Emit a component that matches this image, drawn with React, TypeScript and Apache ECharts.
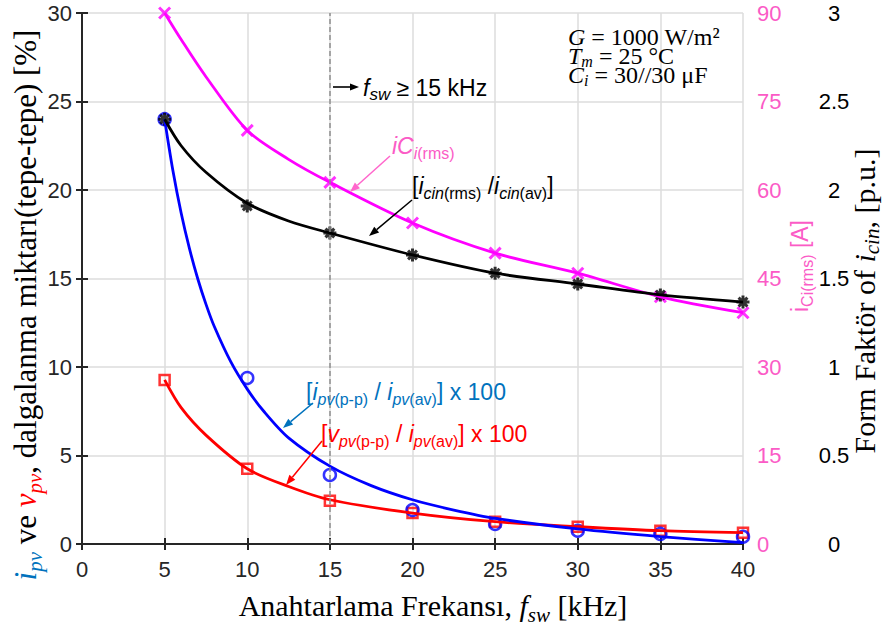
import React, { useEffect, useRef } from 'react';
import * as echarts from 'echarts';

// ---------------- data ----------------
const freq = [5, 10, 15, 20, 25, 30, 35, 40]; // kHz
const iciRms = [90, 70.1, 61.3, 54.4, 49.3, 45.9, 41.9, 39.2]; // A (right pink axis) markers
const formFactor = [2.4, 1.91, 1.757, 1.633, 1.53, 1.469, 1.407, 1.367]; // p.u. markers
const ipvRipple = [24, 9.38, 3.9, 1.92, 1.13, 0.75, 0.57, 0.41]; // % measured markers
const vpvRipple = [9.27, 4.25, 2.45, 1.75, 1.26, 0.98, 0.75, 0.64]; // % measured markers

// drawn (fitted) curves at these frequencies
const curveX = [5, 6, 7.5, 10, 12.5, 15, 20, 25, 30, 35, 40];
const iciCurve = [90, 85.5, 79.2, 70.1, 65.2, 61.3, 54.4, 49.3, 45.9, 41.9, 39.2];
const ffCurve = [2.4, 2.25, 2.1, 1.925, 1.825, 1.757, 1.633, 1.53, 1.469, 1.407, 1.367];
const vpvCurve = [9.27, 7.7, 6.15, 4.25, 3.25, 2.5, 1.75, 1.26, 0.98, 0.75, 0.64];
const ipvFitX = [5, 5.5, 6, 6.5, 7, 7.5, 8, 9, 10, 11, 12.5, 15, 17.5, 20, 22.5, 25, 30, 35, 40];
const ipvFitY = [24, 21.1, 18.7, 16.7, 15.0, 13.55, 12.3, 10.3, 8.75, 7.5, 6.0, 4.4, 3.3, 2.5, 1.92, 1.45, 0.85, 0.42, 0.08];

const xRange = [0, 40, 5];
const leftRange = [0, 30, 5];
const pinkRange = [0, 90, 15];
const ffRange = [0, 3, 0.5];
const thresholdFreq = 15;

// ---------------- styles ----------------
const SANS = 'Arial, "Liberation Sans", Helvetica, sans-serif';
const SERIF = '"Times New Roman", "Liberation Serif", "DejaVu Serif", serif';
const INK = '#262626';
const PINK_TXT = '#fb5bc6';
const BLUE_TXT = '#0072BD';
const C_PINK = '#ff00ff';
const C_BLACK = '#000000';
const C_BLUE = '#0000ff';
const C_RED = '#ff0000';

const tk = (fs: number, fam: string, fill: string, it: boolean, sub: boolean, L: number) => ({
  fontSize: fs,
  fontFamily: fam,
  fill,
  fontStyle: it ? 'italic' : 'normal',
  lineHeight: sub ? fs : L,
  verticalAlign: sub ? 'bottom' : 'middle',
});

const rt = (tokens: [string, string][]) => tokens.map(([k, t]) => `{${k}|${t}}`).join('');

function textEl(x: number, y: number, tokens: [string, string][], rich: any, align = 'left', rotation = 0) {
  return {
    type: 'text',
    x,
    y,
    rotation,
    z: 100,
    style: { text: rt(tokens), rich, align, verticalAlign: 'middle' },
  };
}

function arrow(x1: number, y1: number, x2: number, y2: number, color: string, w = 1.5, head = 9) {
  const ang = Math.atan2(y2 - y1, x2 - x1);
  const hx = x2 - head * Math.cos(ang);
  const hy = y2 - head * Math.sin(ang);
  const px = Math.sin(ang) * head * 0.38;
  const py = -Math.cos(ang) * head * 0.38;
  return [
    { type: 'line', z: 100, shape: { x1, y1, x2: hx, y2: hy }, style: { stroke: color, lineWidth: w } },
    {
      type: 'polygon',
      z: 100,
      shape: { points: [[x2, y2], [hx + px, hy + py], [hx - px, hy - py]] },
      style: { fill: color },
    },
  ];
}

function buildOption() {
  const pair = (xs: number[], ys: number[]) => xs.map((x, i) => [x, ys[i]]);

  // axis titles
  const F = 30, S = 21, L = 40;
  const serifRich = (main: string, f = F, s = S, l = L) => ({
    n: tk(f, SERIF, main, false, false, l),
    i: tk(f, SERIF, main, true, false, l),
    s: tk(s, SERIF, main, true, true, l),
    bi: tk(f, SERIF, BLUE_TXT, true, false, l),
    bs: tk(s, SERIF, BLUE_TXT, true, true, l),
    ri: tk(f, SERIF, C_RED, true, false, l),
    rs: tk(s, SERIF, C_RED, true, true, l),
  });

  const xTitle = textEl(433, 605, [['n', 'Anahtarlama Frekansı, '], ['i', 'f'], ['s', 'sw'], ['n', ' [kHz]']], serifRich('#000'), 'center');
  const leftTitle = textEl(25, 305, [
    ['bi', 'i'], ['bs', 'pv'], ['n', ' ve '], ['ri', 'v'], ['rs', 'pv'], ['n', ', dalgalanma miktarı(tepe-tepe) [%]'],
  ], serifRich('#000', 31, 21, 40), 'center', Math.PI / 2);
  const rightTitle = textEl(864, 301, [
    ['n', 'Form Faktör of '], ['i', 'i'], ['s', 'cin'], ['n', ', [p.u.]'],
  ], serifRich('#000', 30, 21, 36), 'center', Math.PI / 2);

  const pinkName = textEl(800, 266, [['n', 'i'], ['s', 'Ci(rms)'], ['n', ' [A]']], {
    n: tk(23, SANS, PINK_TXT, false, false, 30),
    s: tk(16, SANS, PINK_TXT, false, true, 30),
  }, 'center', Math.PI / 2);

  // top-right condition box
  const boxRich = {
    n: tk(24, SERIF, '#000', false, false, 26),
    i: tk(24, SERIF, '#000', true, false, 26),
    s: tk(16, SERIF, '#000', true, true, 26),
  };
  const box1 = textEl(568, 37, [['i', 'G'], ['n', ' = 1000 W/m²']], boxRich);
  const box2 = textEl(568, 56, [['i', 'T'], ['s', 'm'], ['n', ' = 25 °C']], boxRich);
  const box3 = textEl(568, 75, [['i', 'C'], ['s', 'i'], ['n', ' = 30//30 μF']], boxRich);

  // f_sw >= 15 kHz
  const fswRich = {
    n: tk(23, SANS, '#000', false, false, 30),
    i: tk(23, SANS, '#000', true, false, 30),
    s: tk(17, SANS, '#000', true, true, 30),
  };
  const fswText = textEl(363, 88, [['i', 'f'], ['s', 'sw'], ['n', ' ≥ 15 kHz']], fswRich);

  const lblRich = (c: string) => ({
    n: tk(23, SANS, c, false, false, 30),
    i: tk(23, SANS, c, true, false, 30),
    si: tk(16, SANS, c, true, true, 30),
    s: tk(16, SANS, c, false, true, 30),
  });

  const pinkLbl = textEl(392, 146, [['i', 'iC'], ['si', 'i'], ['s', '(rms)']], lblRich(PINK_TXT));
  const blackLbl = textEl(412, 186, [
    ['n', '['], ['i', 'i'], ['si', 'cin'], ['s', '(rms)'], ['n', ' /'], ['i', 'i'], ['si', 'cin'], ['s', '(av)'], ['n', ']'],
  ], lblRich('#000'));
  const blueLbl = textEl(306, 392, [
    ['n', '['], ['i', 'i'], ['si', 'pv'], ['s', '(p-p)'], ['n', ' / '], ['i', 'i'], ['si', 'pv'], ['s', '(av)'], ['n', '] x 100'],
  ], lblRich(BLUE_TXT));
  const redLbl = textEl(321, 434, [
    ['n', '['], ['i', 'v'], ['si', 'pv'], ['s', '(p-p)'], ['n', ' / '], ['i', 'i'], ['si', 'pv'], ['s', '(av)'], ['n', '] x 100'],
  ], lblRich(C_RED));

  const graphic = [
    xTitle, leftTitle, rightTitle, pinkName, box1, box2, box3, fswText,
    pinkLbl, blackLbl, blueLbl, redLbl,
    ...arrow(333, 87, 359, 87, '#000', 1.6, 9),
    ...arrow(390, 156, 350, 192, '#ff66cc', 1.5, 10),
    ...arrow(412, 200, 369, 236, '#000', 1.5, 10),
    ...arrow(313, 403, 283, 428, BLUE_TXT, 1.5, 10),
    ...arrow(322, 441, 286, 485, C_RED, 1.5, 10),
  ];

  const axisLine = { show: true, lineStyle: { color: INK, width: 2 } };
  const axisTick = { show: true, inside: true, length: 6, lineStyle: { color: INK, width: 2 } };
  const split = { show: true, lineStyle: { color: '#dcdcdc', width: 1.5 } };
  const label = (color: string, margin: number) => ({ color, fontSize: 22, fontFamily: SANS, margin });

  const lineSeries = (name: string, data: number[][], color: string, yAxisIndex: number, extra: any = {}) => ({
    name,
    type: 'line',
    data,
    yAxisIndex,
    smooth: 0.3,
    showSymbol: false,
    symbol: 'none',
    lineStyle: { color, width: 2.8 },
    itemStyle: { color },
    silent: true,
    ...extra,
  });
  const markerSeries = (name: string, data: number[][], color: string, yAxisIndex: number, symbol: string, size: number, bw: number) => ({
    name,
    type: 'scatter',
    data,
    yAxisIndex,
    symbol,
    symbolSize: size,
    itemStyle: { color: 'transparent', borderColor: color, borderWidth: bw },
    silent: true,
  });

  const X_PATH = 'path://M0 0L10 10M10 0L0 10';
  const AST_PATH = 'path://M5 0L5 10M0 5L10 5M1.6 1.6L8.4 8.4M8.4 1.6L1.6 8.4';

  return {
    animation: false,
    backgroundColor: '#ffffff',
    grid: { left: 82, right: 139, top: 13, bottom: 82, containLabel: false },
    xAxis: [
      {
        type: 'value', position: 'bottom', min: xRange[0], max: xRange[1], interval: xRange[2],
        axisLine, axisTick, splitLine: split, axisLabel: label(INK, 14),
      },
      {
        type: 'value', position: 'top', min: xRange[0], max: xRange[1], interval: xRange[2],
        axisLine, axisTick, splitLine: { show: false }, axisLabel: { show: false },
      },
    ],
    yAxis: [
      {
        type: 'value', position: 'left', min: leftRange[0], max: leftRange[1], interval: leftRange[2],
        axisLine, axisTick, splitLine: split, axisLabel: label(INK, 10),
      },
      {
        type: 'value', position: 'right', min: pinkRange[0], max: pinkRange[1], interval: pinkRange[2],
        axisLine, axisTick, splitLine: { show: false }, axisLabel: label(PINK_TXT, 14),
      },
      {
        type: 'value', position: 'right', offset: 0, min: ffRange[0], max: ffRange[1], interval: ffRange[2],
        axisLine: { show: false }, axisTick: { show: false }, splitLine: { show: false },
        axisLabel: { ...label('#000', 91), align: 'center' },
      },
    ],
    series: [
      lineSeries('pinkLine', pair(curveX, iciCurve), C_PINK, 1, {
        markLine: {
          silent: true,
          symbol: 'none',
          label: { show: false },
          lineStyle: { type: [5, 3], color: '#8f8f8f', width: 1.5 },
          data: [{ xAxis: thresholdFreq }],
        },
      }),
      markerSeries('pinkMk', pair(freq, iciRms), C_PINK, 1, X_PATH, 11, 3),
      lineSeries('redLine', pair(curveX, vpvCurve), C_RED, 0),
      markerSeries('redMk', pair(freq, vpvRipple), C_RED, 0, 'rect', 10, 2.5),
      lineSeries('blueLine', pair(ipvFitX, ipvFitY), C_BLUE, 0),
      markerSeries('blueMk', pair(freq, ipvRipple), C_BLUE, 0, 'circle', 12, 2.5),
      lineSeries('blackLine', pair(curveX, ffCurve), C_BLACK, 2),
      markerSeries('blackMk', pair(freq, formFactor), C_BLACK, 2, AST_PATH, 13, 3),
    ],
    graphic,
  };
}

export default function App() {
  const ref = useRef<HTMLDivElement>(null);
  useEffect(() => {
    if (!ref.current) return;
    const chart = echarts.init(ref.current, null, { renderer: 'svg' });
    chart.setOption(buildOption() as any);
    return () => chart.dispose();
  }, []);
  return (
    <div
      ref={ref}
      style={{ position: 'fixed', left: 0, top: 0, width: 882, height: 626, background: '#fff' }}
    />
  );
}
